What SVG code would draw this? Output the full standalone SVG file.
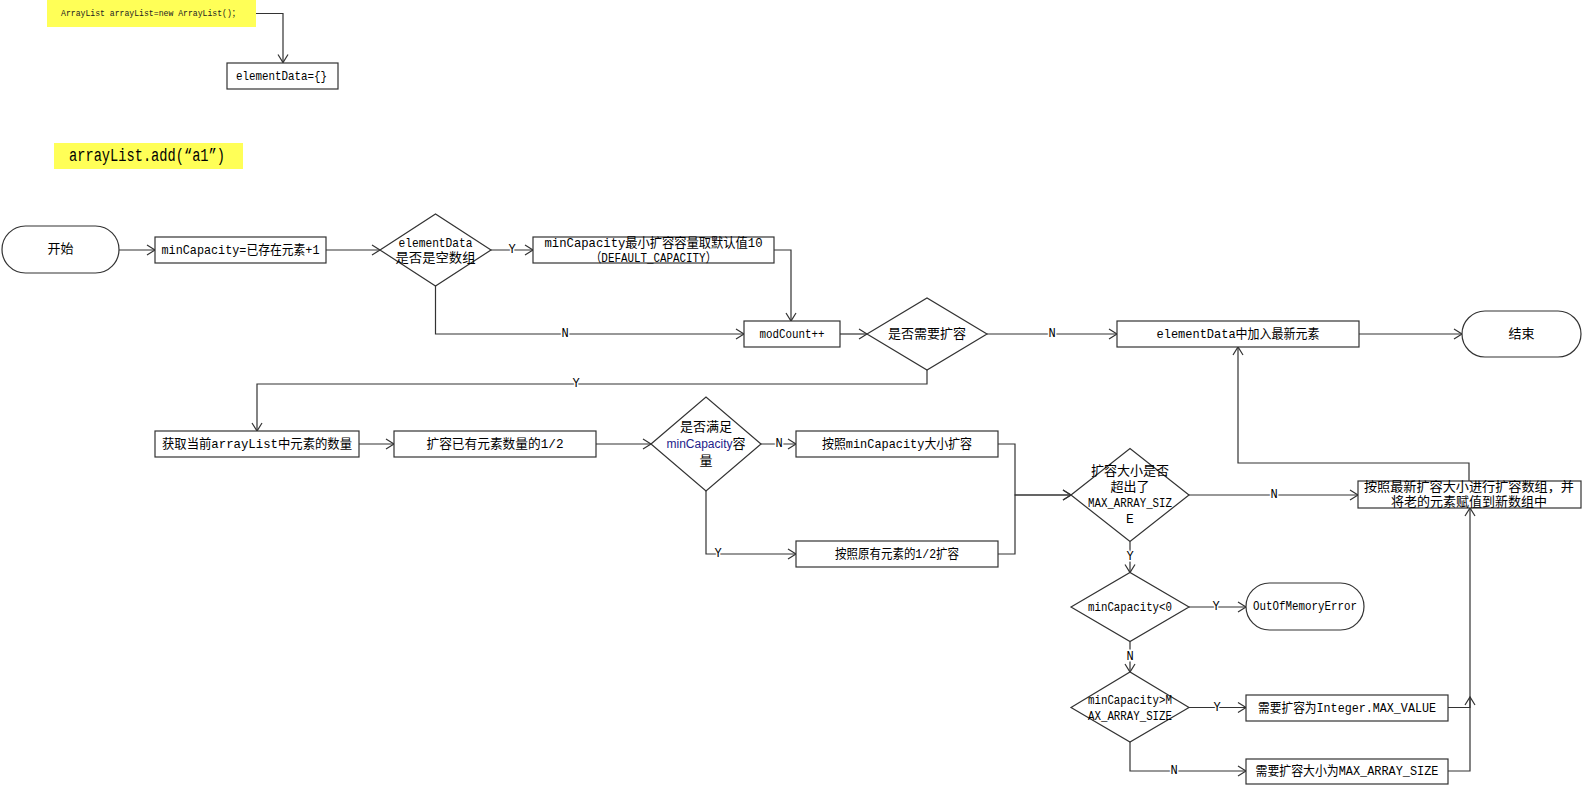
<svg xmlns="http://www.w3.org/2000/svg" width="1584" height="785" viewBox="0 0 1584 785">
<style>
.bx{fill:#fff;stroke:#333;stroke-width:1.2}
.yl{fill:#ffff57;stroke:none}
.ln{fill:none;stroke:#333;stroke-width:1.2}
.t{font-family:'Liberation Mono','Noto Sans CJK SC',monospace;font-size:13px;fill:#000;text-anchor:middle;dominant-baseline:central}
.lb{font-family:'Liberation Mono','Noto Sans CJK SC',monospace;font-size:12px;fill:#000;text-anchor:middle;dominant-baseline:central;stroke:#fff;stroke-width:3px;paint-order:stroke}
</style>
<defs>
<marker id="ar" markerUnits="userSpaceOnUse" markerWidth="12" markerHeight="12" viewBox="-10 -6 12 12" refX="0" refY="0" orient="auto">
<path d="M-8,-5 L0,0 L-8,5" fill="none" stroke="#333" stroke-width="1.2"/>
</marker>
</defs>
<g id="connectors">
<path class="ln" d="M256,13.5 H283 V62.5" marker-end="url(#ar)"/>
<path class="ln" d="M119,250 H155" marker-end="url(#ar)"/>
<path class="ln" d="M326,250 H380" marker-end="url(#ar)"/>
<path class="ln" d="M491,250 H533" marker-end="url(#ar)"/>
<path class="ln" d="M774,250 H791 V321" marker-end="url(#ar)"/>
<path class="ln" d="M435.5,286 V334 H744" marker-end="url(#ar)"/>
<path class="ln" d="M840,334 H867" marker-end="url(#ar)"/>
<path class="ln" d="M987,334 H1117" marker-end="url(#ar)"/>
<path class="ln" d="M1359,334 H1462" marker-end="url(#ar)"/>
<path class="ln" d="M927,370 V384 H257 V431" marker-end="url(#ar)"/>
<path class="ln" d="M359,444 H394" marker-end="url(#ar)"/>
<path class="ln" d="M596,444 H651" marker-end="url(#ar)"/>
<path class="ln" d="M761,444 H796" marker-end="url(#ar)"/>
<path class="ln" d="M706,491 V554 H796" marker-end="url(#ar)"/>
<path class="ln" d="M998,444 H1015 V495 H1071" marker-end="url(#ar)"/>
<path class="ln" d="M998,554 H1015 V495 H1071" marker-end="url(#ar)"/>
<path class="ln" d="M1189,495 H1358" marker-end="url(#ar)"/>
<path class="ln" d="M1130,541.5 V572.5" marker-end="url(#ar)"/>
<path class="ln" d="M1189,607 H1246" marker-end="url(#ar)"/>
<path class="ln" d="M1130,641.5 V672" marker-end="url(#ar)"/>
<path class="ln" d="M1189,707.5 H1246" marker-end="url(#ar)"/>
<path class="ln" d="M1130,742 V771 H1246" marker-end="url(#ar)"/>
<path class="ln" d="M1448,707.5 H1470 V697" marker-end="url(#ar)"/>
<path class="ln" d="M1448,771 H1470 V508" marker-end="url(#ar)"/>
<path class="ln" d="M1469,481 V463 H1238 V347" marker-end="url(#ar)"/>
<text class="lb" x="512" y="250">Y</text>
<text class="lb" x="565" y="334">N</text>
<text class="lb" x="1052" y="334">N</text>
<text class="lb" x="576" y="384">Y</text>
<text class="lb" x="779" y="444">N</text>
<text class="lb" x="718" y="554">Y</text>
<text class="lb" x="1274" y="495">N</text>
<text class="lb" x="1130" y="557">Y</text>
<text class="lb" x="1216" y="607">Y</text>
<text class="lb" x="1130" y="657">N</text>
<text class="lb" x="1217" y="707.5">Y</text>
<text class="lb" x="1174" y="771">N</text>
</g>
<g id="note1">
<rect class="yl" x="47" y="0" width="209" height="27"/>
<text class="t" x="150.5" y="13.5" style="font-size:9.5px;fill:#222" textLength="179" lengthAdjust="spacingAndGlyphs">ArrayList arrayList=new ArrayList()；</text>
</g>
<g id="n-empty">
<rect class="bx" x="227" y="63" width="111" height="26"/>
<text class="t" x="281.5" y="76" textLength="91" lengthAdjust="spacingAndGlyphs">elementData={}</text>
</g>
<g id="note2">
<rect class="yl" x="54" y="143" width="189" height="26"/>
<text class="t" x="147" y="156" style="font-size:18px" textLength="156" lengthAdjust="spacingAndGlyphs">arrayList.add(“a1”)</text>
</g>
<g id="n-start">
<rect class="bx" x="2" y="226" width="117" height="47" rx="23.5"/>
<text class="t" x="60.5" y="249.5">开始</text>
</g>
<g id="n-mincap">
<rect class="bx" x="155" y="237" width="171" height="26"/>
<text class="t" x="240.5" y="250" textLength="158" lengthAdjust="spacingAndGlyphs">minCapacity=已存在元素+1</text>
</g>
<g id="d-empty">
<polygon class="bx" points="380,250 435.5,214 491,250 435.5,286"/>
<text class="t" x="435.5" y="243" textLength="74" lengthAdjust="spacingAndGlyphs">elementData</text>
<text class="t" x="435.5" y="258.5" textLength="80" lengthAdjust="spacingAndGlyphs">是否是空数组</text>
</g>
<g id="n-default">
<rect class="bx" x="533" y="237" width="241" height="26"/>
<text class="t" x="653.5" y="243.5" textLength="218" lengthAdjust="spacingAndGlyphs">minCapacity最小扩容容量取默认值10</text>
<text class="t" x="653.5" y="258.5" textLength="126" lengthAdjust="spacingAndGlyphs">（DEFAULT_CAPACITY）</text>
</g>
<g id="n-modcount">
<rect class="bx" x="744" y="321" width="96" height="26"/>
<text class="t" x="792" y="334" textLength="65" lengthAdjust="spacingAndGlyphs">modCount++</text>
</g>
<g id="d-grow">
<polygon class="bx" points="867,334 927,298 987,334 927,370"/>
<text class="t" x="927" y="334" textLength="78" lengthAdjust="spacingAndGlyphs">是否需要扩容</text>
</g>
<g id="n-add">
<rect class="bx" x="1117" y="321" width="242" height="26"/>
<text class="t" x="1238" y="334" textLength="163" lengthAdjust="spacingAndGlyphs">elementData中加入最新元素</text>
</g>
<g id="n-end">
<rect class="bx" x="1462" y="311" width="119" height="46" rx="23"/>
<text class="t" x="1521.5" y="334">结束</text>
</g>
<g id="n-count">
<rect class="bx" x="155" y="431" width="204" height="26"/>
<text class="t" x="257" y="444" textLength="190" lengthAdjust="spacingAndGlyphs">获取当前arrayList中元素的数量</text>
</g>
<g id="n-half">
<rect class="bx" x="394" y="431" width="202" height="26"/>
<text class="t" x="495" y="444" textLength="137" lengthAdjust="spacingAndGlyphs">扩容已有元素数量的1/2</text>
</g>
<g id="d-enough">
<polygon class="bx" points="651,444 706,397 761,444 706,491"/>
<text class="t" x="706" y="427">是否满足</text>
<text class="t" x="706" y="444"><tspan style="font-family:'Liberation Sans',sans-serif;font-size:12px;fill:#22228a">minCapacity</tspan>容</text>
<text class="t" x="706" y="461.5">量</text>
</g>
<g id="n-bymin">
<rect class="bx" x="796" y="431" width="202" height="26"/>
<text class="t" x="897" y="444" textLength="150" lengthAdjust="spacingAndGlyphs">按照minCapacity大小扩容</text>
</g>
<g id="n-byhalf">
<rect class="bx" x="796" y="541" width="202" height="26"/>
<text class="t" x="897" y="554" textLength="124" lengthAdjust="spacingAndGlyphs">按照原有元素的1/2扩容</text>
</g>
<g id="d-over">
<polygon class="bx" points="1071,495 1130,448.5 1189,495 1130,541.5"/>
<text class="t" x="1130" y="471" textLength="78" lengthAdjust="spacingAndGlyphs">扩容大小是否</text>
<text class="t" x="1130" y="487">超出了</text>
<text class="t" x="1130" y="503" textLength="84" lengthAdjust="spacingAndGlyphs">MAX_ARRAY_SIZ</text>
<text class="t" x="1130" y="519">E</text>
</g>
<g id="n-copy">
<rect class="bx" x="1358" y="481" width="223" height="27"/>
<text class="t" x="1469" y="487.5" textLength="210" lengthAdjust="spacingAndGlyphs">按照最新扩容大小进行扩容数组，并</text>
<text class="t" x="1469" y="502.5" textLength="156" lengthAdjust="spacingAndGlyphs">将老的元素赋值到新数组中</text>
</g>
<g id="d-neg">
<polygon class="bx" points="1071,607 1130,572.5 1189,607 1130,641.5"/>
<text class="t" x="1130" y="607" textLength="84" lengthAdjust="spacingAndGlyphs">minCapacity&lt;0</text>
</g>
<g id="n-oom">
<rect class="bx" x="1246" y="583" width="118" height="47" rx="23.5"/>
<text class="t" x="1305" y="606.5" textLength="104" lengthAdjust="spacingAndGlyphs">OutOfMemoryError</text>
</g>
<g id="d-max">
<polygon class="bx" points="1071,707.5 1130,672 1189,707.5 1130,742"/>
<text class="t" x="1130" y="700" textLength="84" lengthAdjust="spacingAndGlyphs">minCapacity&gt;M</text>
<text class="t" x="1130" y="716" textLength="84" lengthAdjust="spacingAndGlyphs">AX_ARRAY_SIZE</text>
</g>
<g id="n-intmax">
<rect class="bx" x="1246" y="695" width="202" height="26"/>
<text class="t" x="1347" y="708" textLength="178" lengthAdjust="spacingAndGlyphs">需要扩容为Integer.MAX_VALUE</text>
</g>
<g id="n-maxarr">
<rect class="bx" x="1246" y="759" width="202" height="25"/>
<text class="t" x="1347" y="771.5" textLength="183" lengthAdjust="spacingAndGlyphs">需要扩容大小为MAX_ARRAY_SIZE</text>
</g>
</svg>
